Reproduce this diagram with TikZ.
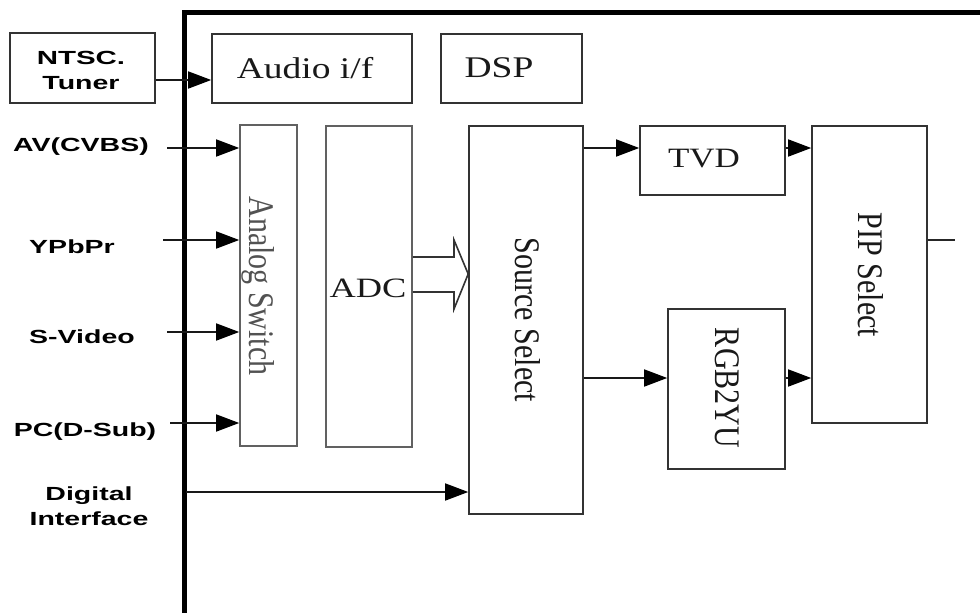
\documentclass[tikz,border=0pt]{standalone}
\usepackage{fontspec}
\setmainfont{Liberation Serif}
\newfontfamily\lsans{Liberation Sans}
\usepackage{graphicx}
\usetikzlibrary{arrows.meta}
\newcommand{\hwide}[2][1.25]{\scalebox{#1}[1]{#2}}
\newcommand{\vwide}[2][1.2]{\scalebox{1}[#1]{#2}}
\begin{document}
\begin{tikzpicture}[x=1pt,y=-1pt,
  box/.style={draw=black!80, line width=1.6pt, inner sep=0pt, fill=white},
  greybox/.style={box, draw=black!62},
  serif/.style={font=\fontsize{30}{30}\selectfont, text=black!90, inner sep=0pt},
  sanslbl/.style={font=\lsans\bfseries\fontsize{19}{25}\selectfont, text=black, inner sep=0pt, align=center},
  arr/.style={line width=1.6pt, draw=black!90, -{Triangle[length=23pt,width=17pt,fill=black,color=black]}},
  plainline/.style={line width=1.6pt, draw=black!85},
  frame/.style={line width=5pt, draw=black, line join=miter}
]
\useasboundingbox (0,0) rectangle (980,613);
\fill[white] (0,0) rectangle (980,613);

% outer frame
\draw[frame] (184,620) -- (184,12.5) -- (985,12.5);

% boxes
\node[box, minimum width=145pt, minimum height=70pt] (tuner) at (82.5,68) {};
\node[box, minimum width=200pt, minimum height=69pt] (audio) at (312,68.5) {};
\node[box, minimum width=141pt, minimum height=69pt] (dsp) at (511.5,68.5) {};
\node[greybox, minimum width=57pt, minimum height=321pt] (sw) at (268.5,285.5) {};
\node[greybox, minimum width=86pt, minimum height=321pt] (adc) at (369,286.5) {};
\node[box, minimum width=114pt, minimum height=388pt] (src) at (526,320) {};
\node[box, minimum width=145pt, minimum height=69pt] (tvd) at (712.5,160.5) {};
\node[box, minimum width=117pt, minimum height=160pt] (rgb) at (726.5,389) {};
\node[box, minimum width=115pt, minimum height=297pt] (pip) at (869.5,274.5) {};

% box texts
\node[sanslbl] (tunert) at (81,70) {\hwide[1.55]{NTSC.}\\\hwide[1.5]{Tuner}};
\node[serif] (audiot) at (305,68) {\hwide{Audio i/f}};
\node[serif] (dspt) at (499,68) {\hwide{DSP}};
\node[serif, font=\fontsize{28}{28}\selectfont] (tvdt) at (704,159) {\hwide{TVD}};
\node[serif, font=\fontsize{28}{28}\selectfont] (adct) at (368,288) {\hwide[1.3]{ADC}};
\node[serif, rotate=-90, text=black!68] (swt) at (258,286) {\vwide{Analog Switch}};
\node[serif, rotate=-90] (srct) at (528,320) {\vwide{Source Select}};
\node[serif, rotate=-90] (rgbt) at (727,388) {\vwide{RGB2YU}};
\node[serif, rotate=-90] (pipt) at (871,275) {\vwide{PIP Select}};

% input labels
\node[sanslbl] (av) at (81,147) {\hwide[1.5]{AV(CVBS)}};
\node[sanslbl] (ypbpr) at (72,247) {\hwide[1.5]{YPbPr}};
\node[sanslbl] (svideo) at (82,337) {\hwide[1.5]{S-Video}};
\node[sanslbl] (pc) at (85,432) {\hwide[1.5]{PC(D-Sub)}};
\node[sanslbl] (digi) at (89,506) {\hwide[1.5]{Digital}\\\hwide[1.5]{Interface}};

% connector free ends and rows
\coordinate (avin) at (167,148);
\coordinate (ypin) at (163,240);
\coordinate (svin) at (167,332);
\coordinate (pcin) at (170,423);
\coordinate (diin) at (186,492);
\coordinate (r1) at (0,148);
\coordinate (r2) at (0,378);
\coordinate (outend) at (955,240);

% connectors
\draw[arr] ([yshift=-12pt]tuner.east) -- ([yshift=-12pt]tuner.east -| audio.west);
\draw[arr] (avin) -- (avin -| sw.west);
\draw[arr] (ypin) -- (ypin -| sw.west);
\draw[arr] (svin) -- (svin -| sw.west);
\draw[arr] (pcin) -- (pcin -| sw.west);
\draw[arr] (diin) -- (diin -| src.west);
\draw[arr] (src.east |- r1) -- (tvd.west |- r1);
\draw[arr] (src.east |- r2) -- (rgb.west |- r2);
\draw[arr] (tvd.east |- r1) -- (pip.west |- r1);
\draw[arr] (rgb.east |- r2) -- (pip.west |- r2);
\draw[plainline] (pip.east |- outend) -- (outend);

% hollow double arrow ADC -> Source Select
\coordinate (h1) at (0,257);
\coordinate (h2) at (0,292);
\coordinate (ha) at (454,240);
\coordinate (htip) at (0,274);
\coordinate (hc) at (454,309);
\draw[line width=1.6pt, draw=black!80, line join=miter]
  (adc.east |- h1) -- (ha |- h1) -- (ha) -- (htip -| src.west) -- (hc) -- (hc |- h2) -- (adc.east |- h2);
\end{tikzpicture}
\end{document}
